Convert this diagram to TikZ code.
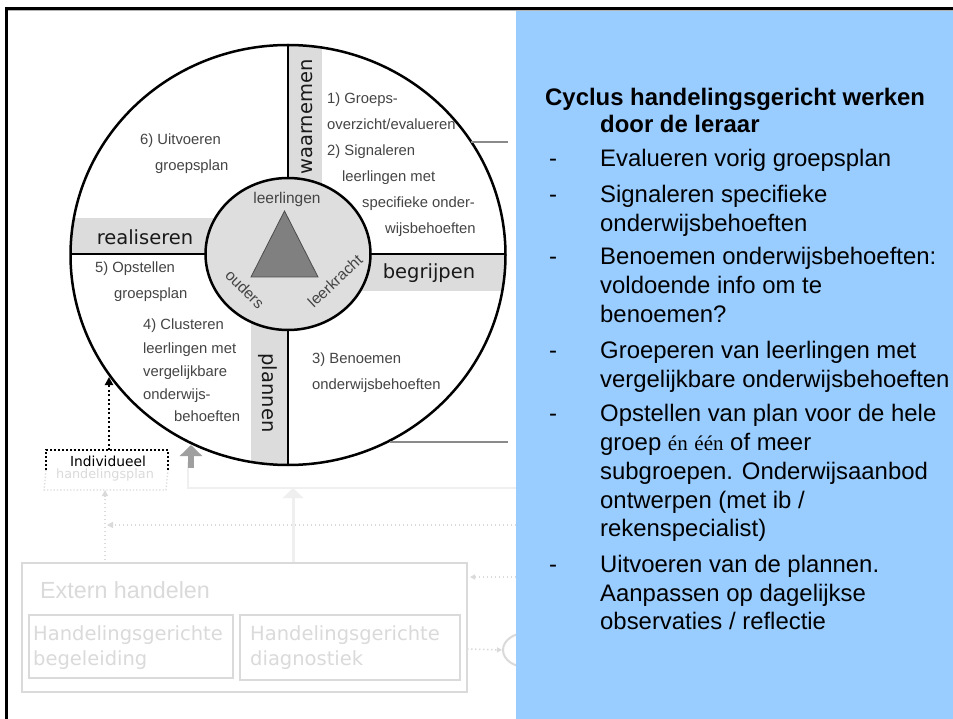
\documentclass[tikz,border=0pt]{standalone}
\usepackage{fontspec}
\setmainfont{Liberation Sans}
\newfontfamily\comic{DejaVu Sans}
\newfontfamily\serifb{Liberation Serif}
\usetikzlibrary{arrows.meta,shapes.geometric}
\definecolor{qgray}{HTML}{444444}
\definecolor{bandgray}{HTML}{DCDCDC}
\definecolor{innergray}{HTML}{DEDEDE}
\definecolor{trigray}{HTML}{808080}
\definecolor{panelblue}{HTML}{99CCFF}
\definecolor{faint}{HTML}{DADADA}
\definecolor{fainter}{HTML}{EFEFEF}
\definecolor{linegray}{HTML}{8A8A8A}
\begin{document}
\begin{tikzpicture}[x=1pt,y=-1pt,
  qtxt/.style={anchor=base west,inner sep=0pt,font=\fontsize{14.8}{16}\selectfont,text=qgray},
  ctxt/.style={inner sep=0pt,font=\fontsize{15.5}{17}\selectfont,text=qgray},
  blab/.style={inner sep=0pt,font=\comic\fontsize{19.5}{22}\selectfont,text=black!90},
  rtxt/.style={anchor=base west,inner sep=0pt,font=\fontsize{23.9}{28}\selectfont,text=black},
  rtitle/.style={anchor=base west,inner sep=0pt,font=\bfseries\fontsize{23.9}{28}\selectfont,text=black},
  ftxt/.style={inner sep=0pt,anchor=base west,font=\comic\fontsize{19.5}{22}\selectfont,text=faint},
  fdot/.style={draw=faint,line width=1.5pt,dash pattern=on 1.5pt off 2.5pt},
]
\useasboundingbox (0,0) rectangle (953,719);
\fill[white] (0,0) rectangle (953,719);

% ---------- faint lower part ----------
\coordinate (ext) at (22,563);
\coordinate (beg) at (29,615);
\coordinate (diag) at (240,615);
\draw[faint,line width=2pt] (ext) rectangle ++(445,129);
\draw[faint,line width=2pt] (beg) rectangle ++(204,63);
\draw[faint,line width=2pt] (diag) rectangle ++(220,65);
\node[inner sep=0pt,anchor=base west,font=\fontsize{23.3}{26}\selectfont,text=faint] (extt) at (40,598) {Extern handelen};
\node[ftxt] (beg1) at (33,640) {Handelingsgerichte};
\node[ftxt] (beg2) at (33,665) {begeleiding};
\node[ftxt] (diag1) at (250,640) {Handelingsgerichte};
\node[ftxt] (diag2) at (250,665) {diagnostiek};

\coordinate (hpb) at (105,490);
\coordinate (dotv) at (105,560);
\coordinate (doth) at (516,525);
\coordinate (dothe) at (107,525);
\draw[fdot,-{Triangle[length=6pt,width=6pt]}] (dotv) -- (hpb);
\draw[fdot,-{Triangle[length=6pt,width=6pt]}] (doth) -- (dothe);

\coordinate (fa1) at (293,562);
\coordinate (fa2) at (293,488);
\draw[draw=fainter,line width=3pt,-{Triangle[length=10pt,width=20pt]}] (fa1) -- (fa2);
\coordinate (gs1) at (188,462);
\coordinate (gs2) at (188,488);
\coordinate (gs3) at (516,488);
\draw[fainter,line width=2.5pt] (gs1) -- (gs2) -- (gs3);

\coordinate (r1a) at (470,577);
\coordinate (r1b) at (516,577);
\draw[fdot,{Triangle[length=5pt,width=5pt]}-] (r1a) -- (r1b);
\node[draw=faint,line width=2pt,ellipse,minimum width=46pt,minimum height=34pt,inner sep=0pt] (oval) at (526,650) {};
\coordinate (r2a) at (467,649);
\draw[fdot,-{Triangle[length=5pt,width=5pt]}] (r2a) -- (oval.west);

% Individueel box
\coordinate (ib1) at (46,470);
\coordinate (ib2) at (46,450);
\coordinate (ib3) at (168,450);
\coordinate (ib4) at (168,470);
\coordinate (ib5) at (44,490);
\coordinate (ib6) at (166,490);
\draw[faint,line width=1.3pt,dash pattern=on 1.3pt off 2pt] (ib1) -- (ib5) -- (ib6) -- (ib4);
\draw[black,line width=2pt,dash pattern=on 2pt off 2pt] (ib1) -- (ib2) -- (ib3) -- (ib4);
\node[inner sep=0pt,font=\comic\fontsize{13.8}{15}\selectfont] (indiv) at (108,461) {Individueel};
\node[inner sep=0pt,font=\comic\fontsize{12.8}{14}\selectfont,text=faint] (hplan) at (105,475) {handelingsplan};
\coordinate (ibtop) at (109,450);
\coordinate (circhit) at (109,377);
\draw[black,line width=2pt,dash pattern=on 2pt off 2.5pt,-{Triangle[length=8pt,width=8pt]}] (ibtop) -- (circhit);

% gray arrow
\coordinate (ga1) at (191,468);
\coordinate (ga2) at (191,445);
\draw[draw=gray!75,line width=6pt,-{Triangle[length=11pt,width=22pt]}] (ga1) -- (ga2);

% ---------- circle ----------
\begin{scope}
  \clip (288,255) ellipse [x radius=217.5, y radius=210];
  \fill[bandgray] (288,30) rectangle (322,254);
  \fill[bandgray] (60,218) rectangle (288,254);
  \fill[bandgray] (288,254) rectangle (515,291);
  \fill[bandgray] (251,254) rectangle (288,475);
\end{scope}
\coordinate (vt) at (288,45);
\coordinate (vb) at (288,465);
\coordinate (hl) at (70,254);
\coordinate (hr) at (505,254);
\draw[black,line width=2pt] (vt) -- (vb);
\draw[black,line width=2pt] (hl) -- (hr);
\draw[black,line width=2.5pt] (288,255) ellipse [x radius=217.5, y radius=210];
\node[draw=black,fill=innergray,line width=2.5pt,ellipse,minimum width=165pt,minimum height=152pt,inner sep=0pt] (inner) at (288,254) {};

% lines to the right
\coordinate (gl1a) at (471,142);
\coordinate (gl1b) at (508,142);
\coordinate (gl2a) at (390,442);
\coordinate (gl2b) at (508,442);
\draw[linegray,line width=2pt] (gl1a) -- (gl1b);
\draw[linegray,line width=2pt] (gl2a) -- (gl2b);

% triangle
\coordinate (ta) at (284.5,211);
\coordinate (tl) at (251,277);
\coordinate (tr) at (318,277);
\draw[fill=trigray,draw=black!70,line width=0.8pt] (ta) -- (tl) -- (tr) -- cycle;
\node[ctxt] (leerl) at (287,199) {leerlingen};
\node[ctxt,rotate=-45] (ouders) at (245,289) {ouders};
\node[ctxt,rotate=43] (leerk) at (335,281) {leerkracht};

% band labels
\node[blab,rotate=90] (waar) at (307,117) {waarnemen};
\node[blab] (real) at (145,237) {realiseren};
\node[blab] (begr) at (429,273) {begrijpen};
\node[blab,rotate=-90] (plan) at (268,393) {plannen};

% quadrant texts
\node[qtxt] (q1a) at (327,104) {1) Groeps-};
\node[qtxt] (q1b) at (327,130) {overzicht/evalueren};
\node[qtxt] (q1c) at (327,156) {2) Signaleren};
\node[qtxt] (q1d) at (342,182) {leerlingen met};
\node[qtxt] (q1e) at (362,208) {specifieke onder-};
\node[qtxt] (q1f) at (385,234) {wijsbehoeften};
\node[qtxt] (q6a) at (140,145) {6) Uitvoeren};
\node[qtxt] (q6b) at (155,171) {groepsplan};
\node[qtxt] (q5a) at (95,273) {5) Opstellen};
\node[qtxt] (q5b) at (114,299) {groepsplan};
\node[qtxt] (q4a) at (143,330) {4) Clusteren};
\node[qtxt] (q4b) at (143,353) {leerlingen met};
\node[qtxt] (q4c) at (143,376) {vergelijkbare};
\node[qtxt] (q4d) at (143,399) {onderwijs-};
\node[qtxt] (q4e) at (174,421) {behoeften};
\node[qtxt] (q3a) at (312,363) {3) Benoemen};
\node[qtxt] (q3b) at (312,389) {onderwijsbehoeften};

% ---------- right panel ----------
\fill[panelblue] (516,10) rectangle (953,719);
\draw[black,line width=3pt] (5,8.5) -- (953,8.5);
\draw[black!30,line width=1pt] (8,10.5) -- (953,10.5);
\draw[black,line width=3pt] (6.5,7) -- (6.5,719);

\node[rtitle] (t1) at (545,106) {Cyclus handelingsgericht werken};
\node[rtitle] (t2) at (600,133) {door de leraar};
\foreach \y [count=\i] in {167,203,265,358,421,572}
  \node[rtxt] (d\i) at (549,\y) {-};
\node[rtxt] (a1) at (600,167) {Evalueren vorig groepsplan};
\node[rtxt] (b1) at (600,203) {Signaleren specifieke};
\node[rtxt] (b2) at (600,232) {onderwijsbehoeften};
\node[rtxt] (c1) at (600,265) {Benoemen onderwijsbehoeften:};
\node[rtxt] (c2) at (600,294) {voldoende info om te};
\node[rtxt] (c3) at (600,323) {benoemen?};
\node[rtxt] (e1) at (600,358) {Groeperen van leerlingen met};
\node[rtxt] (e2) at (600,387) {vergelijkbare onderwijsbehoeften};
\node[rtxt] (f1) at (600,421) {Opstellen van plan voor de hele};
\node[rtxt] (f2) at (600,450) {groep {\serifb\fontsize{21}{24}\selectfont én} {\serifb\fontsize{21}{24}\selectfont één} of meer};
\node[rtxt] (f3) at (600,479) {subgroepen. Onderwijsaanbod};
\node[rtxt] (f4) at (600,508) {ontwerpen (met ib /};
\node[rtxt] (f5) at (600,536) {rekenspecialist)};
\node[rtxt] (g1) at (600,572) {Uitvoeren van de plannen.};
\node[rtxt] (g2) at (600,601) {Aanpassen op dagelijkse};
\node[rtxt] (g3) at (600,629) {observaties / reflectie};
\end{tikzpicture}
\end{document}
